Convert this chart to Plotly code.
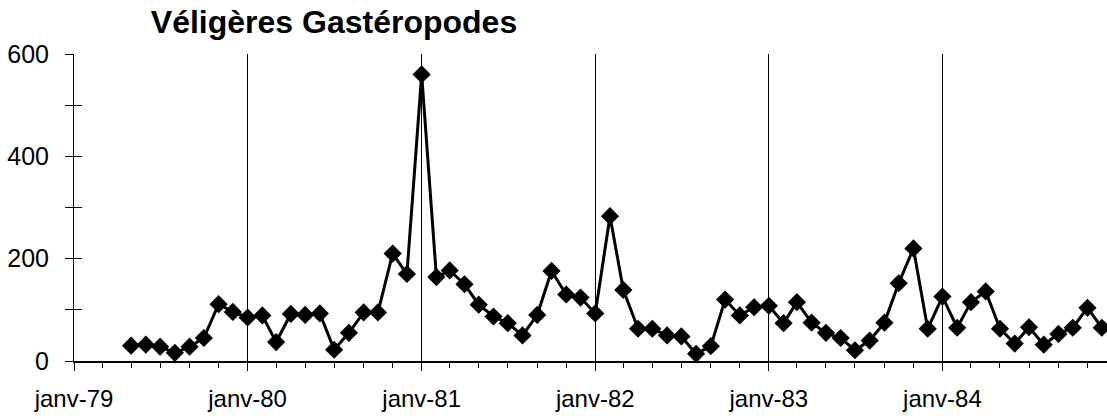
import plotly.graph_objects as go
import pandas as pd

# ---- data ----
start_month = "1979-05-01"
values = [30, 32, 28, 16, 28, 45, 111, 96,            # mai-79 .. déc-79
          85, 89, 37, 92, 90, 93, 22, 55, 95, 95, 210, 170,   # 1980
          560, 164, 177, 150, 110, 87, 74, 50, 90, 176, 130, 124,  # 1981
          93, 283, 139, 63, 63, 50, 48, 14, 29, 120, 89, 105,    # 1982
          108, 74, 115, 75, 55, 45, 21, 40, 75, 152, 220, 63,    # 1983
          126, 65, 115, 136, 63, 34, 66, 32, 53, 65, 104, 65]    # 1984
dates = pd.date_range(start_month, periods=len(values), freq="MS")
tick_vals = ["1979-01-01", "1980-01-01", "1981-01-01", "1982-01-01", "1983-01-01", "1984-01-01"]
tick_labels = ["janv-79", "janv-80", "janv-81", "janv-82", "janv-83", "janv-84"]
y_tick_vals = [0, 100, 200, 300, 400, 500, 600]
title_text = "Véligères Gastéropodes"

fig = go.Figure()
fig.add_trace(go.Scatter(
    x=dates, y=values, mode="lines+markers",
    line=dict(color="black", width=3),
    marker=dict(symbol="diamond", size=14, color="black"),
    showlegend=False, cliponaxis=False,
))
# invisible trace for inside y ticks (crossing ticks)
fig.add_trace(go.Scatter(x=[dates[0]], y=[0], yaxis="y2", mode="markers",
                         marker=dict(opacity=0), showlegend=False, hoverinfo="skip"))

font = "Liberation Sans, Arial, sans-serif"
fig.update_layout(
    width=1107, height=419,
    margin=dict(l=74, r=0, t=54, b=58, pad=0),
    paper_bgcolor="white", plot_bgcolor="white",
    font=dict(family=font, color="black"),
    title=dict(text="<b>" + title_text + "</b>", x=334 / 1107, xref="container", xanchor="center",
               y=1 - 22 / 419, yref="container", yanchor="middle", pad=dict(l=0, r=0, t=0, b=0),
               automargin=False,
               font=dict(size=32, family=font, color="black")),
    xaxis=dict(
        range=["1979-01-01", "1984-12-12"], automargin=False,
        tickmode="array", tickvals=tick_vals, ticktext=tick_labels,
        ticks="outside", ticklen=8, tickwidth=1, tickcolor="black",
        showgrid=True, gridcolor="black", gridwidth=1,
        showline=True, linecolor="black", linewidth=1.5,
        zeroline=False,
        tickfont=dict(size=24, family=font, color="black"),
        ticklabelstandoff=7,
        minor=dict(dtick="M2", tick0="1979-01-01", ticks="outside", ticklen=5,
                   tickcolor="black", tickwidth=1, showgrid=False),
    ),
    yaxis=dict(
        range=[0, 600], dtick=200, tick0=0, automargin=False,
        ticks="outside", ticklen=8, tickwidth=1, tickcolor="black",
        showgrid=False, zeroline=False,
        showline=True, linecolor="black", linewidth=1,
        tickfont=dict(size=25, family=font, color="black"),
        ticklabelstandoff=11,
        minor=dict(dtick=100, ticks="outside", ticklen=8, tickcolor="black", tickwidth=1, showgrid=False),
    ),
    yaxis2=dict(
        overlaying="y", side="left", automargin=False,
        range=[0, 600], tickmode="array", tickvals=y_tick_vals,
        ticks="inside", ticklen=8, tickwidth=1, tickcolor="black",
        showticklabels=False, showgrid=False, zeroline=False, showline=False,
    ),
)

fig.write_html("out.html", config={"displayModeBar": False},
               post_script="document.body.style.margin='0';document.body.style.overflow='hidden';")
